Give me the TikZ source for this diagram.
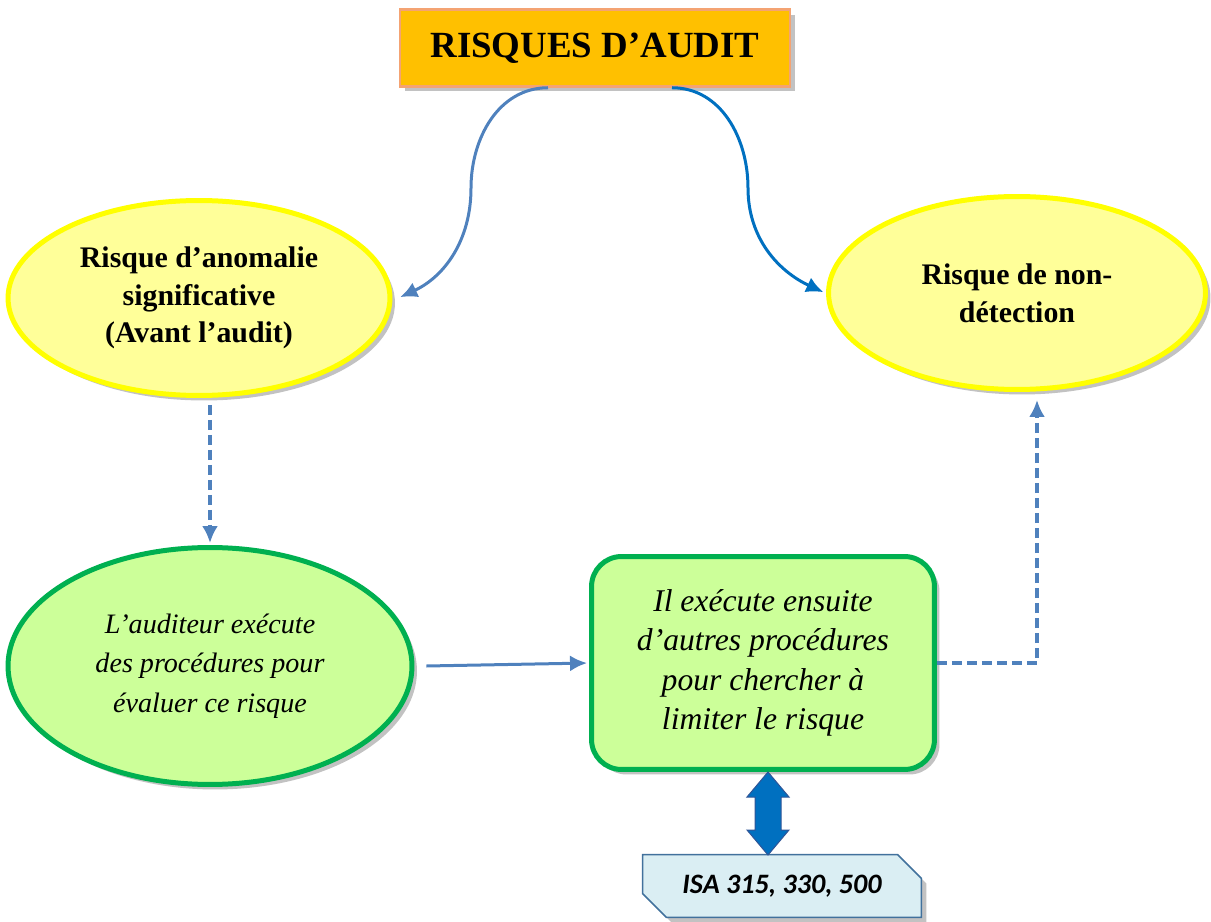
\documentclass[tikz,border=0pt]{standalone}
\usepackage{fontspec}
\setmainfont{Liberation Serif}
\newfontfamily\isafont{Carlito}
\definecolor{RAorange}{HTML}{FFC000}
\definecolor{RAorangeline}{HTML}{F4A373}
\definecolor{RAyellow}{HTML}{FFFF99}
\definecolor{RAyellowline}{HTML}{FFFF00}
\definecolor{RAgreen}{HTML}{CCFF99}
\definecolor{RAgreenline}{HTML}{00B050}
\definecolor{RAblue}{HTML}{4F81BD}
\definecolor{RAdeepblue}{HTML}{0070C0}
\definecolor{RAnavy}{HTML}{2F5597}
\definecolor{RAsky}{HTML}{DAEEF3}
\definecolor{RAskyline}{HTML}{41719C}
\usetikzlibrary{arrows.meta,calc,positioning,shapes.geometric,shapes.misc,shadows}

\begin{document}
\begin{tikzpicture}[x=0.02cm,y=-0.02cm,>={Latex[length=0.34cm,width=0.32cm]},
  shade/.style={drop shadow={shadow xshift=0.1cm,shadow yshift=-0.1cm,opacity=0.4,fill=black!60}},
  riskbell/.style={ellipse,shade,draw=RAyellowline,fill=RAyellow,line width=0.1cm,inner sep=0pt,
    align=center,font=\fontsize{17}{21.5}\selectfont\bfseries},
  stepbell/.style={ellipse,shade,draw=RAgreenline,fill=RAgreen,line width=0.1cm,inner sep=0pt,
    align=center,font=\fontsize{16}{22.5}\selectfont\itshape},
  flow/.style={->,line width=0.06cm,RAblue,shorten >=0.04cm},
  dashflow/.style={flow,line width=0.075cm,dash pattern=on 0.2cm off 0.1cm}]
  \useasboundingbox (0,0) rectangle (1211,922);
  % title
  \node[shade,draw=RAorangeline,fill=RAorange,line width=0.05cm,minimum width=7.8cm,minimum height=1.54cm,
    font=\fontsize{21}{25}\selectfont\bfseries] (title) at (595,48) {RISQUES D’AUDIT};
  % the two risks
  \node[riskbell,minimum width=7.64cm,minimum height=3.9cm] (anomaly) at (199,298)
    {Risque d’anomalie\\significative\\(Avant l’audit)};
  \node[riskbell,minimum width=7.54cm,minimum height=3.86cm] (nondetect) at (1017,293)
    {Risque de non-\\détection};
  % procedures
  \node[stepbell,minimum width=8.08cm,minimum height=4.74cm] (assess) at (210,666)
    {L’auditeur exécute\\des procédures pour\\évaluer ce risque\vphantom{p}};
  \node[shade,draw=RAgreenline,fill=RAgreen,line width=0.1cm,rounded corners=0.6cm,
    minimum width=6.86cm,minimum height=4.26cm,align=center,
    font=\fontsize{18}{22.5}\selectfont\itshape] (limit) at (763,663)
    {Il exécute ensuite\\d’autres procédures\\pour chercher à\\limiter le risque};
  \node[chamfered rectangle,chamfered rectangle corners={north east,south west},
    chamfered rectangle xsep=0.24cm,chamfered rectangle ysep=0.24cm,
    shade,draw=RAskyline,fill=RAsky,line width=0.03cm,minimum width=5.58cm,minimum height=1.26cm,
    font=\isafont\fontsize{16}{19}\selectfont\bfseries\itshape] (isa) at (782,886) {ISA 315, 330, 500};
  % block arrow between the box and the standards
  \coordinate (linktop) at (768,772);
  \coordinate (linkbot) at (768,855);
  \draw[draw=RAnavy,fill=RAdeepblue,line width=0.02cm] (linktop) -- ++(21,25) -- ++(-8,0) -- ++(0,33)
    -- ++(8,0) -- (linkbot) -- ++(-21,-25) -- ++(8,0) -- ++(0,-33) -- ++(-8,0) -- cycle;

  % connectors
  \coordinate (lbend) at (471,188);
  \coordinate (rbend) at (748,188);
  \coordinate (turn) at (1037,663);
  \draw[flow] ($(title.south)+(-47,0)$) to[out=180,in=90] (lbend) to[out=-90,in=25] ([xshift=0.12cm]anomaly.east);
  \draw[flow,RAdeepblue] ($(title.south)+(77,0)$) to[out=0,in=90] (rbend) to[out=-90,in=155] ([xshift=-0.02cm]nondetect.west);
  \draw[dashflow] ([yshift=-0.14cm]anomaly.south -| assess.north) -- (assess.north);
  \draw[flow] ([xshift=0.24cm]assess.east) -- (limit.west);
  \draw[dashflow,shorten >=0.16cm] (limit.east) -- (turn) -- (turn |- nondetect.south);
\end{tikzpicture}
\end{document}
